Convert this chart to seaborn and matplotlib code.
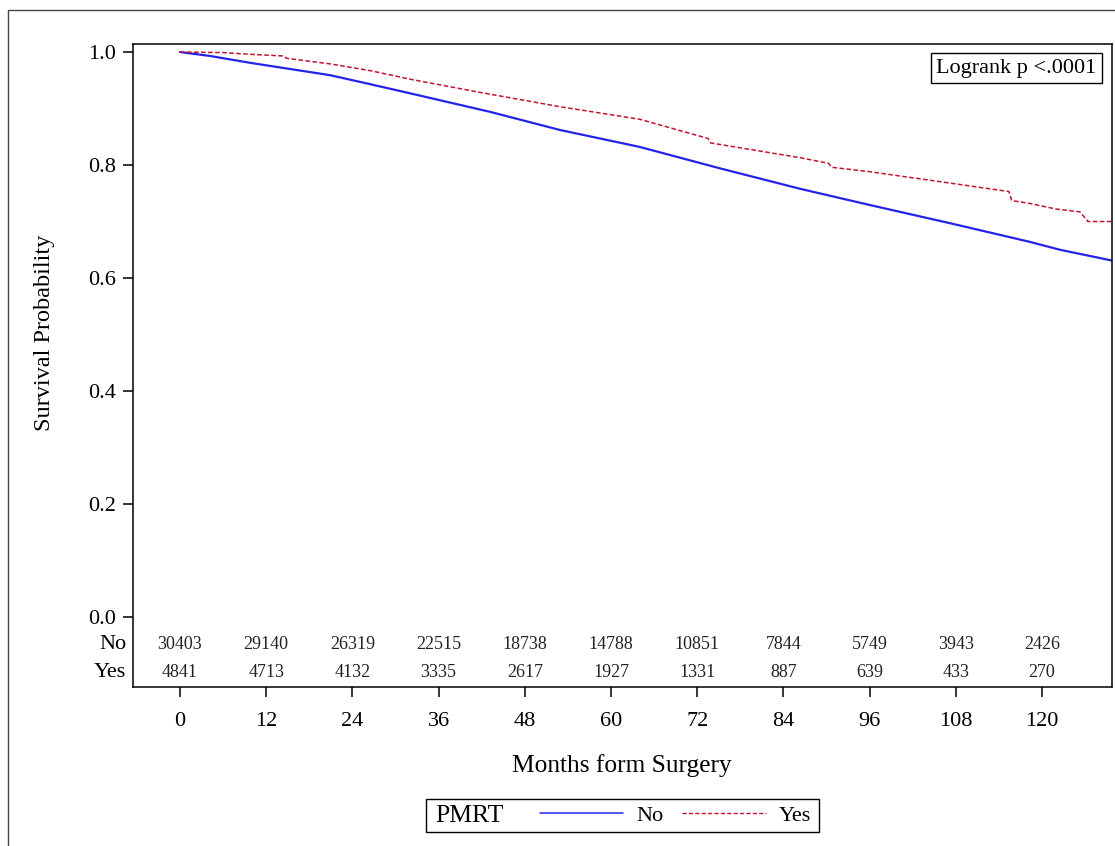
import pandas as pd
import seaborn as sns
import matplotlib.pyplot as plt
import matplotlib.transforms as mtransforms
from matplotlib.patches import Rectangle
from matplotlib.lines import Line2D

# curvas de supervivencia
months_no = [0, 4.2, 9.7, 20.9, 26.5, 32, 43.2, 52.9, 64, 75.2, 86.3, 96.1, 107.2, 118.3, 122.5, 129.7]
surv_no = [1.0, 0.993, 0.981, 0.959, 0.943, 0.927, 0.894, 0.862, 0.832, 0.794, 0.758, 0.729, 0.697,
           0.664, 0.650, 0.631]

months_yes = [0, 6, 9.75, 14.4, 14.8, 20.9, 26.5, 32, 42, 53, 64, 73.5, 73.9, 86.3, 90.3, 90.7, 96.1,
              107.2, 115.4, 115.8, 118.3, 122, 125.3, 126.4, 129.7]
surv_yes = [1.0, 0.999, 0.996, 0.993, 0.989, 0.979, 0.967, 0.952, 0.928, 0.903, 0.881, 0.847, 0.839,
            0.813, 0.803, 0.796, 0.788, 0.768, 0.753, 0.737, 0.732, 0.722, 0.717, 0.700, 0.700]

# numero en riesgo
risk_months = [0, 12, 24, 36, 48, 60, 72, 84, 96, 108, 120]
risk_no = [30403, 29140, 26319, 22515, 18738, 14788, 10851, 7844, 5749, 3943, 2426]
risk_yes = [4841, 4713, 4132, 3335, 2617, 1927, 1331, 887, 639, 433, 270]

groups = ["No", "Yes"]
x_ticks = list(range(0, 121, 12))
y_ticks = [0.0, 0.2, 0.4, 0.6, 0.8, 1.0]

sns.set_style("ticks")
plt.rcParams['font.family'] = ['Liberation Serif', 'DejaVu Serif']

W, H = 1115, 846
fig = plt.figure(figsize=(W / 100, H / 100), dpi=100)
ax = fig.add_axes([133 / W, 1 - 687 / H, (1112 - 133) / W, (687 - 44) / H])

blue = '#2424e6'
red = '#c41230'
dash = (0, (3, 1.6))

df_no = pd.DataFrame({"month": months_no, "surv": surv_no})
df_yes = pd.DataFrame({"month": months_yes, "surv": surv_yes})
sns.lineplot(data=df_no, x="month", y="surv", color=blue, linewidth=1.6,
             estimator=None, sort=False, ax=ax)
sns.lineplot(data=df_yes, x="month", y="surv", color=red, linewidth=1.1,
             linestyle=dash, estimator=None, sort=False, ax=ax)

ax.set_xlim(-6.54, 129.75)
ax.set_ylim(-0.124, 1.0142)
ax.set_xticks(x_ticks)
ax.set_xticklabels([str(t) for t in x_ticks])
ax.set_yticks(y_ticks)
ax.set_yticklabels([f"{t:.1f}" for t in y_ticks])
ax.tick_params(axis='both', direction='out', length=7, width=1.1, labelsize=16,
               color='black', labelcolor='black')
ax.tick_params(axis='x', pad=11)
ax.tick_params(axis='y', pad=5)
ax.set_xlabel("")
ax.set_ylabel("")
for sp in ax.spines.values():
    sp.set_visible(True)
    sp.set_linewidth(1.1)
    sp.set_color('black')

# tabla de numero en riesgo
row_y = [-0.0496, -0.099]
for counts, yv in zip([risk_no, risk_yes], row_y):
    for m, c in zip(risk_months, counts):
        ax.text(m, yv, str(c), ha='center', va='center', fontsize=13, color='#222222')
blend = mtransforms.blended_transform_factory(ax.transAxes, ax.transData)
for g, yv in zip(groups, row_y):
    ax.text(-0.007, yv, g, ha='right', va='center', fontsize=16, color='black', transform=blend)

# caja logrank
ax.text(0.984, 0.977, "Logrank p <.0001", ha='right', va='top', fontsize=16, color='black',
        transform=ax.transAxes,
        bbox=dict(boxstyle='square,pad=0.25', facecolor='white', edgecolor='black', linewidth=1))

# etiquetas de ejes
fig.text(45 / W, 1 - 333 / H, "Survival Probability", rotation=90, ha='center', va='center',
         fontsize=17.5, color='black')
fig.text(622 / W, 1 - 766 / H, "Months form Surgery", ha='center', va='center',
         fontsize=18.3, color='black')

# leyenda
fig.patches.append(Rectangle((426 / W, 1 - 832 / H), (819 - 426) / W, 33 / H,
                             transform=fig.transFigure, facecolor='white', edgecolor='black',
                             linewidth=1))
fig.text(435 / W, 1 - 816 / H, "PMRT", ha='left', va='center', fontsize=18.5, color='black')
handles = [Line2D([], [], color=blue, linewidth=1.1),
           Line2D([], [], color=red, linewidth=1.0, linestyle=dash)]
fig.legend(handles, groups, loc='center left', bbox_to_anchor=(540 / W, 1 - 816 / H),
           ncol=2, frameon=False, fontsize=16, handlelength=3.74, handletextpad=0.59,
           columnspacing=0.86, borderpad=0, borderaxespad=0, labelcolor='black')

# marco exterior
fig.patches.append(Rectangle((8 / W, -0.1), 1.2, 1.1 - 10 / H, transform=fig.transFigure,
                             facecolor='none', edgecolor='#444444', linewidth=1, clip_on=False))

fig.savefig("out.png", dpi=100)
